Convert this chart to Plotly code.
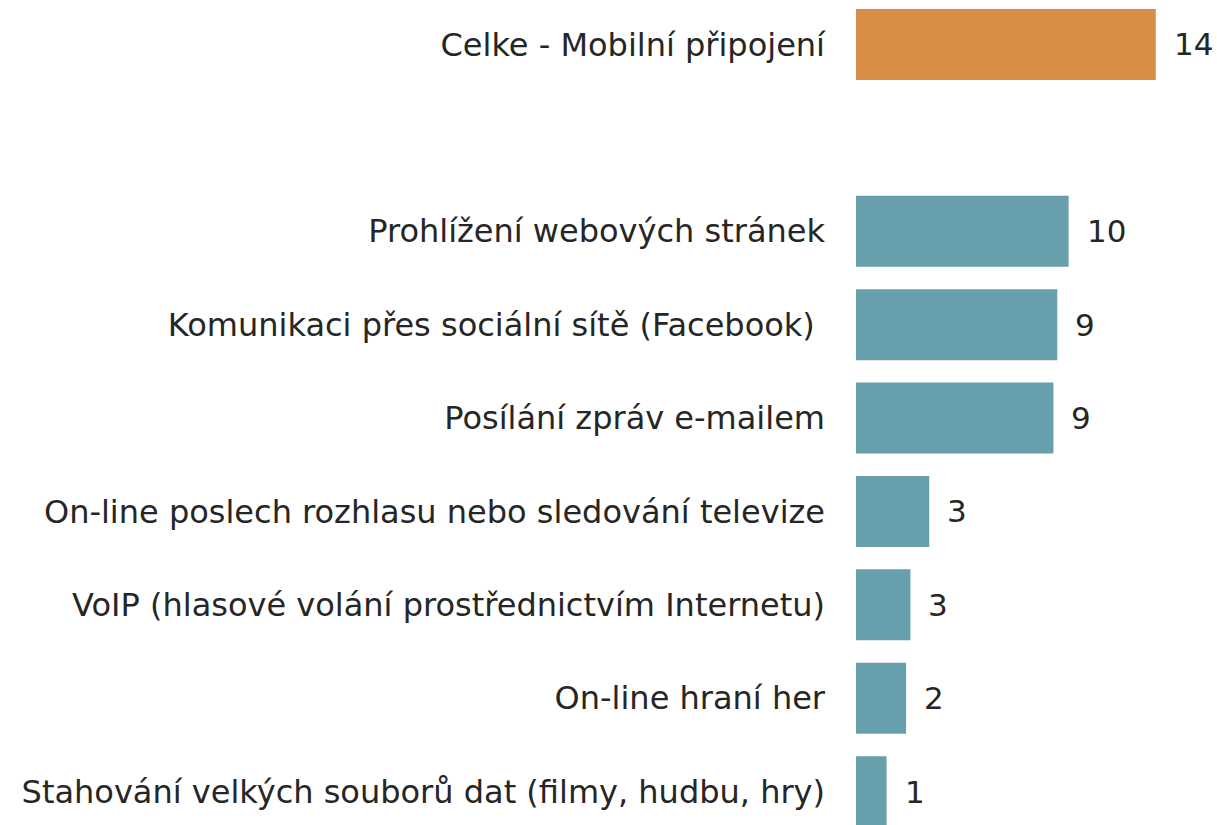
import plotly.graph_objects as go

# Share of users (%) by activity over mobile connection
total_label = "Celke - Mobilní připojení"
total_value = 14.0

spacer = " "

activities = [
    "Prohlížení webových stránek",
    "Komunikaci přes sociální sítě (Facebook)\u00a0",
    "Posílání zpráv e-mailem",
    "On-line poslech rozhlasu nebo sledování televize",
    "VoIP (hlasové volání prostřednictvím Internetu)",
    "On-line hraní her",
    "Stahování velkých souborů dat (filmy, hudbu, hry)",
]
activity_values = [9.93, 9.40, 9.22, 3.42, 2.54, 2.34, 1.43]

category_order = [total_label, spacer] + activities

text_color = "#262626"
font_family = "DejaVu Sans, Verdana, sans-serif"
label_size = 32
value_size = 31

fig = go.Figure()

fig.add_trace(go.Bar(
    y=[total_label, spacer],
    x=[total_value, None],
    orientation="h",
    marker=dict(color="#D98E48", line=dict(width=0)),
    hoverinfo="skip",
))

fig.add_trace(go.Bar(
    y=activities,
    x=activity_values,
    orientation="h",
    marker=dict(color="#689FAD", line=dict(width=0)),
    hoverinfo="skip",
))

# Value labels to the right of each bar
for cat, val in [(total_label, total_value)] + list(zip(activities, activity_values)):
    fig.add_annotation(
        x=val, y=cat,
        text=f"{val:.0f}",
        xanchor="left", yanchor="middle",
        xshift=16,
        showarrow=False,
        font=dict(family=font_family, size=value_size, color=text_color),
    )

fig.update_layout(
    width=1217, height=825,
    margin=dict(l=856, r=0, t=0, b=0),
    paper_bgcolor="white",
    plot_bgcolor="white",
    barmode="overlay",
    bargap=0.24,
    showlegend=False,
    font=dict(family=font_family, size=label_size, color=text_color),
)

fig.update_xaxes(
    range=[0, 16.86],
    showgrid=False, zeroline=False, showline=False,
    showticklabels=False, ticks="",
)

fig.update_yaxes(
    type="category",
    categoryorder="array",
    categoryarray=category_order,
    range=[8.357, -0.476],
    showgrid=False, zeroline=False, showline=False,
    ticks="",
    ticklabelstandoff=30,
    tickfont=dict(family=font_family, size=label_size, color=text_color),
)

fig.write_html("out.html")
